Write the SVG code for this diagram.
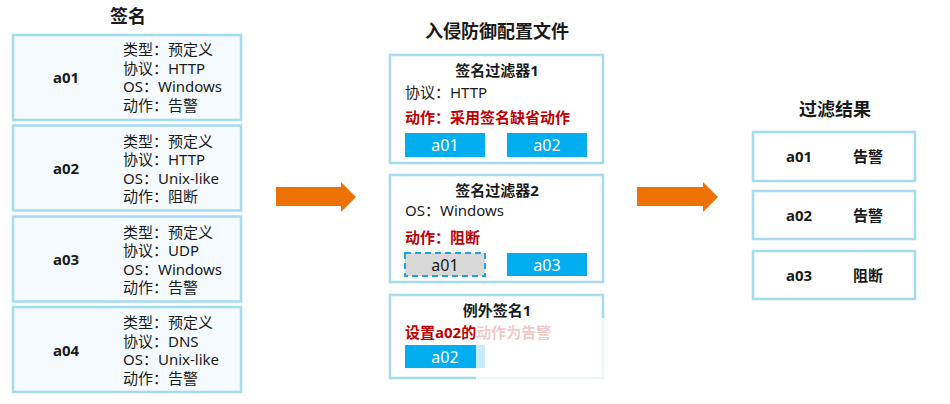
<svg xmlns="http://www.w3.org/2000/svg" width="950" height="404" viewBox="0 0 950 404">
<style>
text{font-family:"Noto Sans","Noto Sans CJK SC",sans-serif;fill:#1a1a1a}
.h{font-size:18px;font-weight:bold;text-anchor:middle}
.sig{fill:#F4FAFD;stroke:#A5DBEE;stroke-width:2.5}
.box{fill:#FFFFFF;stroke:#A5DBEE;stroke-width:2.5}
.t{font-size:15px}
.b{font-size:15px;font-weight:bold}
.c{text-anchor:middle}
.red{font-size:15px;font-weight:bold;fill:#C00000}
.blue{fill:#00AEEF}
.w{font-size:16px;fill:#FFFFFF;text-anchor:middle}
.arrow{fill:#EE7203}
</style>
<rect width="950" height="404" fill="#FFFFFF"/>

<g id="col-signatures">
<text class="h" x="128" y="23">签名</text>
</g>
<g id="sig-a01">
<rect class="sig" x="13" y="35" width="228" height="85"/>
<text class="b c" x="66" y="83">a01</text>
<text class="t" x="123" y="55">类型：预定义</text>
<text class="t" x="123" y="73.5">协议：HTTP</text>
<text class="t" x="123" y="92">OS：Windows</text>
<text class="t" x="123" y="110.5">动作：告警</text>
</g>
<g id="sig-a02">
<rect class="sig" x="13" y="125.5" width="228" height="85"/>
<text class="b c" x="66" y="173.5">a02</text>
<text class="t" x="123" y="146.5">类型：预定义</text>
<text class="t" x="123" y="165">协议：HTTP</text>
<text class="t" x="123" y="183.5">OS：Unix-like</text>
<text class="t" x="123" y="202">动作：阻断</text>
</g>
<g id="sig-a03">
<rect class="sig" x="13" y="216.5" width="228" height="85"/>
<text class="b c" x="66" y="265">a03</text>
<text class="t" x="123" y="237.5">类型：预定义</text>
<text class="t" x="123" y="256">协议：UDP</text>
<text class="t" x="123" y="274.5">OS：Windows</text>
<text class="t" x="123" y="293">动作：告警</text>
</g>
<g id="sig-a04">
<rect class="sig" x="13" y="307" width="228" height="85"/>
<text class="b c" x="66" y="355.5">a04</text>
<text class="t" x="123" y="328">类型：预定义</text>
<text class="t" x="123" y="346.5">协议：DNS</text>
<text class="t" x="123" y="365">OS：Unix-like</text>
<text class="t" x="123" y="383.5">动作：告警</text>
</g>

<g id="connectors">
<polygon class="arrow" points="276,187 341,187 341,182 356,197 341,212 341,206 276,206"/>
<polygon class="arrow" points="637,187 703,187 703,182 718,197 703,212 703,206 637,206"/>
</g>

<g id="col-profile">
<text class="h" x="497" y="38">入侵防御配置文件</text>
</g>
<g id="filter-1">
<rect class="box" x="390" y="55" width="213" height="108"/>
<text class="b c" x="497" y="75.5">签名过滤器1</text>
<text class="t" x="405" y="97.5">协议：HTTP</text>
<text class="red" x="405" y="122.5">动作：采用签名缺省动作</text>
<rect class="blue" x="405" y="133" width="80" height="24"/>
<text class="w" x="445" y="151">a01</text>
<rect class="blue" x="507" y="133" width="80" height="24"/>
<text class="w" x="547" y="151">a02</text>
</g>
<g id="filter-2">
<rect class="box" x="390" y="175" width="213" height="107"/>
<text class="b c" x="497" y="195.5">签名过滤器2</text>
<text class="t" x="405" y="215.5">OS：Windows</text>
<text class="red" x="405" y="242.5">动作：阻断</text>
<rect x="405" y="253" width="80" height="23" fill="#D9D9D9" stroke="#1FA4DC" stroke-width="2" stroke-dasharray="6,4"/>
<text class="w" x="445" y="270.5" style="fill:#1a1a1a">a01</text>
<rect class="blue" x="507" y="253" width="80" height="23"/>
<text class="w" x="547" y="270.5">a03</text>
</g>
<g id="exception-1">
<rect class="box" x="390" y="295" width="213" height="83"/>
<text class="b c" x="497" y="315.5">例外签名1</text>
<text class="red" x="405" y="337.5">设置a02的动作为告警</text>
<rect class="blue" x="405" y="345" width="80" height="23"/>
<text class="w" x="445" y="362.5">a02</text>
</g>

<g id="col-result">
<text class="h" x="835" y="116">过滤结果</text>
</g>
<g id="res-a01">
<rect class="box" x="753" y="132" width="162" height="49"/>
<text class="b c" x="799" y="162">a01</text>
<text class="b c" x="868" y="162">告警</text>
</g>
<g id="res-a02">
<rect class="box" x="753" y="191" width="162" height="48"/>
<text class="b c" x="799" y="220.5">a02</text>
<text class="b c" x="868" y="220.5">告警</text>
</g>
<g id="res-a03">
<rect class="box" x="753" y="251" width="162" height="48"/>
<text class="b c" x="799" y="280.5">a03</text>
<text class="b c" x="868" y="280.5">阻断</text>
</g>

<rect x="476" y="318" width="474" height="86" fill="#FFFFFF" opacity="0.78"/>
</svg>
